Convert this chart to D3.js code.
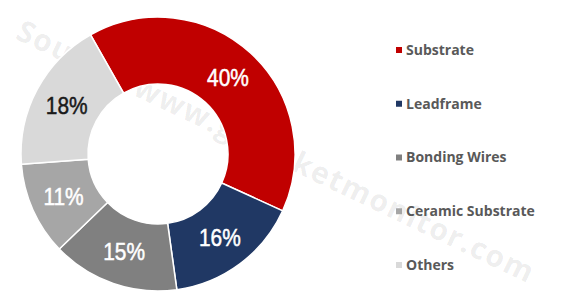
<!DOCTYPE html>
<html>
<head>
<meta charset="utf-8">
<script src="https://cdn.jsdelivr.net/npm/d3@7"></script>
<style>
  body { margin: 0; background: #fff; }
  svg { display: block; }
</style>
</head>
<body>
<div id="chart"></div>
<script>
const categories = ['Substrate', 'Leadframe', 'Bonding Wires', 'Ceramic Substrate', 'Others'];
const shares = [40, 16, 15, 11, 18];
const colors = ['#c00000', '#203864', '#808080', '#a6a6a6', '#d9d9d9'];
const labelColors = ['#ffffff', '#ffffff', '#ffffff', '#ffffff', '#1a1a1a'];

const width = 563, height = 299;
const cx = 158, cy = 154;
const outerR = 137, innerR = 70;

const svg = d3.select('#chart').append('svg')
  .attr('width', width)
  .attr('height', height);

// watermark
svg.append('text')
  .attr('transform', 'translate(22,22) rotate(25.5)')
  .attr('x', 0).attr('y', 18)
  .style('font-family', 'Open Sans, sans-serif')
  .style('font-weight', 700)
  .style('font-size', '30px')
  .style('fill', '#000')
  .style('fill-opacity', 0.08)
  .style('letter-spacing', '1.5px')
  .text('Source: www.gmarketmonitor.com');

const pie = d3.pie()
  .value(d => d)
  .sort(null)
  .startAngle(-29.5 * Math.PI / 180)
  .endAngle((360 - 29.5) * Math.PI / 180);

const arc = d3.arc().innerRadius(innerR).outerRadius(outerR);
const labelArc = d3.arc().innerRadius((innerR + outerR) / 2).outerRadius((innerR + outerR) / 2);

const g = svg.append('g').attr('transform', `translate(${cx},${cy})`);
const arcs = pie(shares);

g.selectAll('path')
  .data(arcs)
  .enter().append('path')
  .attr('d', arc)
  .style('fill', (d, i) => colors[i])
  .style('stroke', '#fff')
  .style('stroke-width', 1.5);

// labels are a bit condensed in the original
g.selectAll('text.lbl')
  .data(arcs)
  .enter().append('text')
  .attr('class', 'lbl')
  .attr('transform', d => `translate(${labelArc.centroid(d)}) scale(0.87,1)`)
  .attr('text-anchor', 'middle')
  .attr('dy', '0.36em')
  .style('font-family', 'Liberation Sans, Arial, sans-serif')
  .style('font-size', '24px')
  .style('fill', (d, i) => labelColors[i])
  .style('stroke', (d, i) => labelColors[i])
  .style('stroke-width', 0.5)
  .text(d => d.data + '%');

// legend
const legend = svg.append('g').attr('transform', 'translate(396,0)');
const legendY = d3.scalePoint().domain(categories).range([50, 265]);

categories.forEach((c, i) => {
  const row = legend.append('g').attr('transform', `translate(0,${legendY(c)})`);
  row.append('rect')
    .attr('x', 0).attr('y', -3)
    .attr('width', 6).attr('height', 6)
    .style('fill', colors[i]);
  row.append('text')
    .attr('x', 10).attr('dy', '0.35em')
    .style('font-family', 'Open Sans, sans-serif')
    .style('font-size', '14px')
    .style('font-weight', 700)
    .style('fill', '#595959')
    .text(c);
});
</script>
</body>
</html>
